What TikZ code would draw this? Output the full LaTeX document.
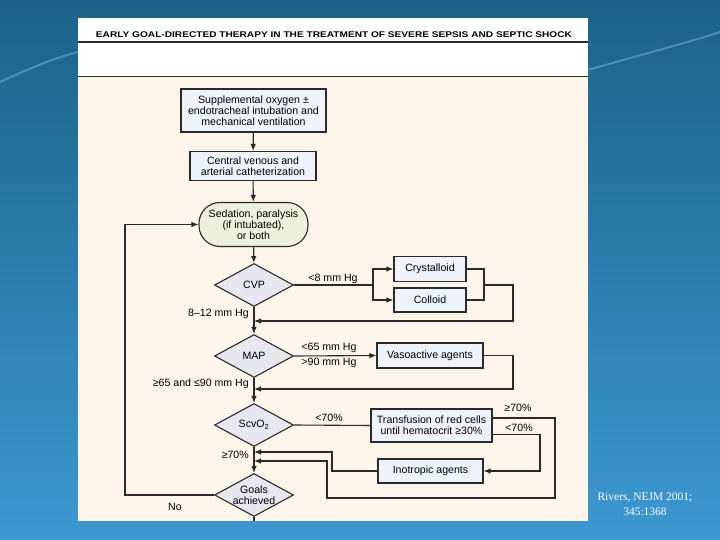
\documentclass[tikz,border=0pt]{standalone}
\usepackage{graphicx}
\usepackage{fontspec}
\setmainfont{Liberation Sans}
\newfontfamily\citefont{Liberation Serif}
\usetikzlibrary{arrows.meta,shapes,calc}

\definecolor{paper}{HTML}{FDF4EA}
\definecolor{boxfill}{HTML}{EEF3FB}
\definecolor{diafill}{HTML}{E6E7EF}
\definecolor{sedfill}{HTML}{EDF1DC}
\definecolor{ink}{HTML}{2A2A2A}
\definecolor{bgtop}{HTML}{1C6288}
\definecolor{bgbot}{HTML}{3D98D0}

\begin{document}
\begin{tikzpicture}[x=1pt,y=-1pt,>={Latex[length=7pt,width=5.5pt]},
  box/.style={rectangle,draw=ink,fill=boxfill,line width=1.1pt,align=center,inner sep=0pt,
    font=\fontsize{10.6}{11}\selectfont},
  dia/.style={diamond,draw=ink,fill=diafill,line width=1.1pt,aspect=1.8,inner sep=0pt,
    minimum width=79pt,minimum height=43pt,align=center,font=\fontsize{10.6}{11}\selectfont},
  lbl/.style={inner sep=0pt,font=\fontsize{10.6}{11}\selectfont},
  wire/.style={draw=ink,line width=1.1pt}]
  \useasboundingbox (0,0) rectangle (720,540);
  % slide background
  \shade[top color=bgtop,bottom color=bgbot] (0,0) rectangle (720,540);
  \draw[cyan!40,opacity=0.35,line width=2pt] (0,82) .. controls (30,68) and (55,58) .. (78,52);
  \draw[cyan!40,opacity=0.35,line width=2pt] (588,70) .. controls (640,55) and (690,42) .. (720,32);
  % article panel
  \fill[white] (78,18) rectangle (588,77);
  \fill[paper] (78,77) rectangle (588,521);
  \draw[ink,line width=1.1pt] (78,42) -- (588,42);
  \draw[ink,line width=1.1pt] (78,76.5) -- (588,76.5);
  \path (334,35) node[inner sep=0pt](title){\resizebox{476pt}{5.8pt}{\bfseries EARLY GOAL-DIRECTED THERAPY IN THE TREATMENT OF SEVERE SEPSIS AND SEPTIC SHOCK}};

  % main column
  \path (253.5,110.5) node[box,minimum width=145pt,minimum height=43pt](oxy){Supplemental oxygen ±\\endotracheal intubation and\\mechanical ventilation}
        (253,166) node[box,minimum width=126pt,minimum height=29pt](cath){Central venous and\\arterial catheterization}
        (253.5,224.5) node[box,fill=sedfill,rounded corners=21pt,minimum width=109pt,minimum height=44pt](sed){Sedation, paralysis\\(if intubated),\\or both}
        (254,285) node[dia](cvp){CVP}
        (254,356) node[dia](map){MAP}
        (254,425) node[dia](scv){ScvO\textsubscript{2}}
        (254,495) node[dia](goals){Goals\\achieved};

  % treatment boxes
  \path (430,269) node[box,minimum width=72pt,minimum height=25pt](cryst){Crystalloid}
        (430,300) node[box,minimum width=72pt,minimum height=24pt](coll){Colloid}
        (430,355.5) node[box,minimum width=106pt,minimum height=25pt](vaso){Vasoactive agents}
        (431.5,425.5) node[box,minimum width=121pt,minimum height=33pt](trans){Transfusion of red cells\\until hematocrit ≥30\%}
        (430.5,471) node[box,minimum width=105pt,minimum height=24pt](ino){Inotropic agents};

  % labels
  \path (333,279) node[lbl](lcvp){<8 mm Hg}
        (249,314) node[lbl,anchor=east](lcvpok){8–12 mm Hg}
        (329,348) node[lbl](lmaplo){<65 mm Hg}
        (329,363) node[lbl](lmaphi){>90 mm Hg}
        (249,384) node[lbl,anchor=east](lmapok){≥65 and ≤90 mm Hg}
        (329,418) node[lbl](lscv){<70\%}
        (249,455) node[lbl,anchor=east](lscvok){≥70\%}
        (518,408) node[lbl](ltrhi){≥70\%}
        (519,428) node[lbl](ltrlo){<70\%}
        (175,507) node[lbl](lno){No};

  % corner points
  \coordinate (bottom) at (254,521);
  \coordinate (loop) at (125,495);
  \coordinate (split) at (373,285);
  \coordinate (merge) at (484,285);
  \coordinate (cvpret) at (513,321);
  \coordinate (cvpin) at (254,321);
  \coordinate (mapret) at (513,389);
  \coordinate (mapin) at (254,389);
  \coordinate (hiout) at ($(trans.north east)!0.28!(trans.south east)$);
  \coordinate (loout) at ($(trans.north east)!0.76!(trans.south east)$);
  \coordinate (hiright) at (555,498);
  \coordinate (hileft) at (327,461);
  \coordinate (hiin) at (254,461);
  \coordinate (loright) at (540,471);
  \coordinate (inoleft) at (332,452);
  \coordinate (inoin) at (254,452);

  \draw[wire,->](oxy) -- (cath);
  \draw[wire,->](cath) -- (sed);
  \draw[wire,->](sed) -- (cvp);
  \draw[wire,->](cvp) -- (map);
  \draw[wire,->](map) -- (scv);
  \draw[wire,->](scv) -- (goals);
  \draw[wire](goals) -- (bottom);
  \draw[wire,->](goals.west) -- (loop) |- (sed.west);

  \draw[wire](cvp.east) -- (split);
  \draw[wire,->](split) |- (cryst.west);
  \draw[wire,->](split) |- (coll.west);
  \draw[wire](cryst.east) -| (merge);
  \draw[wire](coll.east) -| (merge);
  \draw[wire,->](merge) -| (cvpret) -- (cvpin);

  \draw[wire,->](map.east) -- (vaso.west);
  \draw[wire,->](vaso.east) -| (mapret) -- (mapin);

  \draw[wire](scv.east) -- (trans.west);
  \draw[wire,->](hiout) -| (hiright) -| (hileft) -- (hiin);
  \draw[wire,->](loout) -| (loright) -- (ino.east);
  \draw[wire,->](ino.west) -| (inoleft) -- (inoin);

  % reference
  \path (645,504) node[white,align=center,font=\citefont\fontsize{11.5}{15}\selectfont](cite){Rivers, NEJM 2001;\\345:1368};
\end{tikzpicture}
\end{document}
